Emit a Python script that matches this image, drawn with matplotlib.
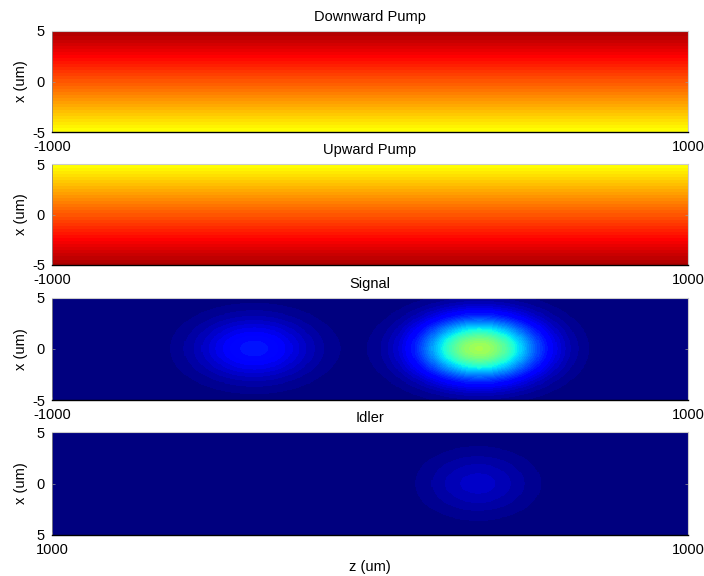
import numpy as np
import matplotlib
matplotlib.use("Agg")
import matplotlib.pyplot as plt

plt.rcParams['font.family'] = ['Liberation Sans', 'DejaVu Sans']

# Domain of the simulation window
z_limits = [-1000, 1000]     # um, propagation axis
x_limits = [-5, 5]           # um, transverse axis

panel_titles = ["Downward Pump", "Upward Pump", "Signal", "Idler"]
ytick_values = [5, 0, -5]
ytick_labels_std = ["5", "0", "-5"]
xtick_labels_std = ["-1000", "1000"]
ytick_labels_last = ["5", "0", "5"]
xtick_labels_last = ["1000", "1000"]

# Pump intensity at the x = +5 and x = -5 edges (downward pump)
pump_level_top = 0.24
pump_level_bottom = 0.75

# Signal: two gaussian spots
signal_center_z = [-365, 345]
signal_center_x = [0.0, 0.0]
signal_peak = [0.15, 0.55]
signal_sigma_z = [125, 130]
signal_sigma_x = [2.1, 2.1]

# Idler: one weak gaussian spot
idler_center_z = [340]
idler_center_x = [0.0]
idler_peak = [0.07]
idler_sigma_z = [115]
idler_sigma_x = [2.1]

nz, nx = 600, 200
z = np.linspace(z_limits[0], z_limits[1], nz)
x = np.linspace(x_limits[0], x_limits[1], nx)
Z, X = np.meshgrid(z, x)


def spots(cz, cx, peak, sz, sx):
    f = np.zeros_like(Z)
    for a, b, p, s1, s2 in zip(cz, cx, peak, sz, sx):
        f += p * np.exp(-((Z - a) ** 2) / (2 * s1 ** 2) - ((X - b) ** 2) / (2 * s2 ** 2))
    return f


frac = (X - x_limits[0]) / (x_limits[1] - x_limits[0])
down_pump = pump_level_bottom + (pump_level_top - pump_level_bottom) * frac
up_pump = pump_level_top + (pump_level_bottom - pump_level_top) * frac
signal = spots(signal_center_z, signal_center_x, signal_peak, signal_sigma_z, signal_sigma_x)
idler = spots(idler_center_z, idler_center_x, idler_peak, idler_sigma_z, idler_sigma_x)

fields = [down_pump, up_pump, signal, idler]
cmaps = [plt.get_cmap('hot', 64), plt.get_cmap('hot', 64),
         plt.get_cmap('jet', 64), plt.get_cmap('jet', 64)]

FS = 10.5
fig = plt.figure(figsize=(7.04, 5.76), dpi=100)
W, H = 704.0, 576.0
left_px, right_px = 52, 688
rows_px = [(31, 132), (164, 265), (298, 400), (432, 535)]

for i, (top, bot) in enumerate(rows_px):
    ax = fig.add_axes([left_px / W, 1 - bot / H, (right_px - left_px) / W, (bot - top) / H])
    ax.imshow(fields[i], cmap=cmaps[i], vmin=0, vmax=1, origin='lower', aspect='auto',
              extent=[z_limits[0], z_limits[1], x_limits[0], x_limits[1]],
              interpolation='nearest')
    ax.set_xlim(z_limits)
    ax.set_ylim(x_limits)
    ax.set_title(panel_titles[i], fontsize=FS, pad=7)
    ax.set_yticks(ytick_values)
    ax.set_xticks(z_limits)
    if i == 3:
        ax.set_yticklabels(ytick_labels_last, fontsize=FS)
        ax.set_xticklabels(xtick_labels_last, fontsize=FS)
        ax.set_xlabel("z (um)", fontsize=FS, labelpad=2)
    else:
        ax.set_yticklabels(ytick_labels_std, fontsize=FS)
        ax.set_xticklabels(xtick_labels_std, fontsize=FS)
    ax.set_ylabel("x (um)", fontsize=FS)
    ax.yaxis.set_label_coords((28 - left_px) / (right_px - left_px), 0.5)
    ax.tick_params(direction='in', length=2, width=0.5, color='#999999',
                   right=True)
    ax.tick_params(axis='y', pad=5)
    ax.tick_params(axis='x', pad=6)
    for side in ('top', 'right'):
        ax.spines[side].set_color('#cccccc')
        ax.spines[side].set_linewidth(0.8)
    ax.spines['left'].set_color('#888888')
    ax.spines['left'].set_linewidth(0.6)
    ax.spines['bottom'].set_color('black')
    ax.spines['bottom'].set_linewidth(1.0)

fig.savefig("out.png", dpi=100)
